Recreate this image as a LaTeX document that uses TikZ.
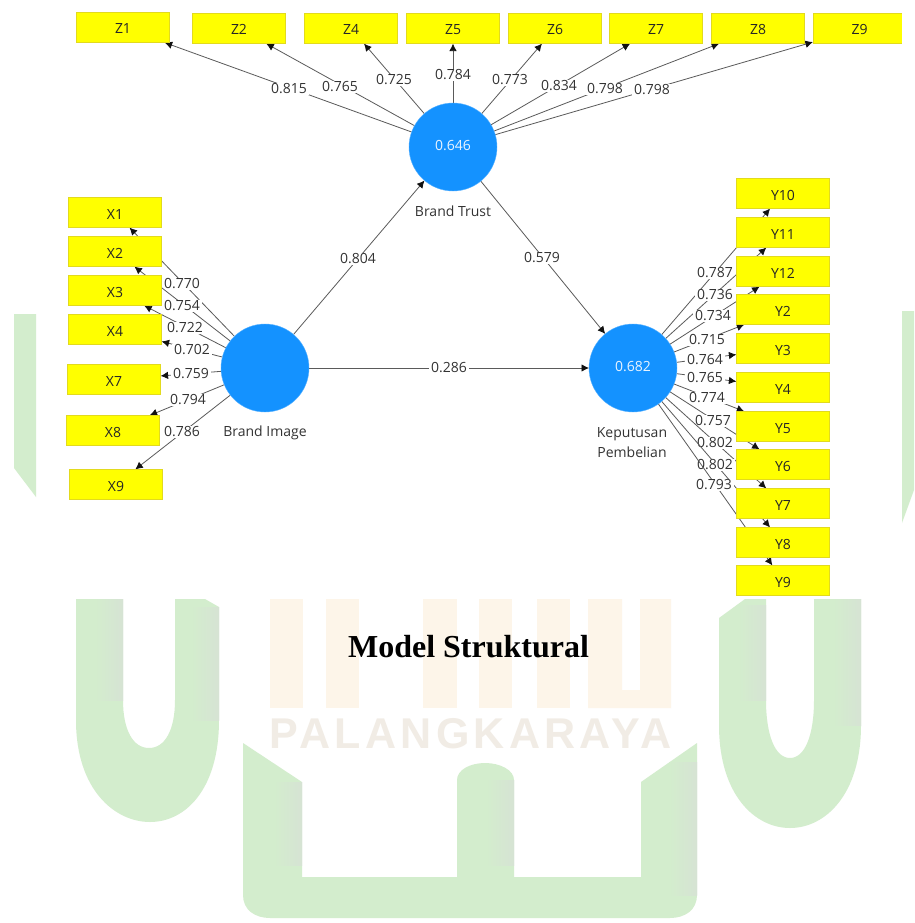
\documentclass[tikz,border=0pt]{standalone}
\usepackage{fontspec}
\setmainfont{Open Sans}
\newfontfamily\titlefont{Liberation Serif}
\newfontfamily\wmfont[LetterSpace=10]{Liberation Sans}
\usetikzlibrary{arrows.meta}
\pgfdeclarelayer{wm}
\pgfdeclarelayer{links}
\pgfsetlayers{wm,links,main}
\definecolor{wmgreen}{HTML}{D3EDCD}
\definecolor{wmgray}{HTML}{D6E3D4}
\definecolor{wmtan}{HTML}{FDF5E9}
\definecolor{wmtext}{HTML}{F1ECE5}
\definecolor{lvblue}{HTML}{1492FF}
\definecolor{boxfill}{HTML}{FFFF00}
\definecolor{boxedge}{HTML}{E2DA1E}
\definecolor{linkgray}{HTML}{5A5A5A}
\definecolor{tipblack}{HTML}{111111}
\definecolor{labelink}{HTML}{333333}
\tikzset{
  x=1pt,y=-1pt,
  every node/.style={font=\fontsize{14}{18}\selectfont,inner sep=0pt,outer sep=0pt},
  indicator/.style={rectangle,draw=boxedge,line width=0.8pt,fill=boxfill,minimum width=93.2pt,minimum height=30.2pt,text=black!85,text height=13pt,text depth=0pt},
  latent/.style={circle,fill=lvblue,draw=lvblue!70!white,line width=0.4pt,minimum size=88pt,text=white!90!lvblue},
  caption/.style={text=black!80,align=center},
  link/.style={draw=linkgray,line width=0.8pt,-{Latex[length=7.5pt,width=7.5pt,color=tipblack]}},
  weight/.style={fill=white,text=labelink,inner xsep=2.5pt,inner ysep=0.5pt},
}
\newcommand{\lnk}[6]{%
  \draw[link] (#1) -- (#2);
  \node[weight] (#3) at (#5,#6) {#4};}
\newcommand{\edgeshade}[4]{%
  \shade[left color=wmgreen,right color=wmgray] (#1,#3) rectangle (#2,#4);}
\begin{document}
\begin{tikzpicture}
\useasboundingbox (0,0) rectangle (914,923);
\begin{pgfonlayer}{wm}
  \fill[white] (0,0) rectangle (914,923);
  % side strips
  \fill[wmgreen] (14,314) -- (36,314) -- (36,497) -- (14,468) -- cycle;
  \fill[wmgreen] (902,311) -- (914,311) -- (914,490) -- (902,523) -- cycle;
  % left U
  \fill[wmgreen] (76,599) -- (76,720) .. controls (76,790) and (115,822) .. (150,822)
     .. controls (185,822) and (219,790) .. (219,720) -- (219,607) -- (205,599) -- (175,599)
     -- (175,700) .. controls (175,730) and (165,748) .. (149,748)
     .. controls (133,748) and (123,730) .. (123,700) -- (123,599) -- cycle;
  \edgeshade{95}{123}{599}{700}
  \edgeshade{191}{219}{607}{720}
  % right U
  \fill[wmgreen] (719,618) -- (745,599) -- (766,599) -- (766,700)
     .. controls (766,735) and (775,758) .. (790,758)
     .. controls (805,758) and (814,735) .. (814,700) -- (814,599) -- (861,599) -- (861,725)
     .. controls (861,795) and (825,828) .. (790,828)
     .. controls (755,828) and (719,795) .. (719,725) -- cycle;
  \edgeshade{738}{766}{605}{700}
  \edgeshade{833}{861}{599}{725}
  % bottom shape
  \fill[wmgreen] (243,743) -- (302,782) -- (302,877) -- (457,877) -- (457,780)
     .. controls (457,770) and (470,763) .. (485,763)
     .. controls (500,763) and (514,770) .. (514,780) -- (514,877) -- (641,877) -- (641,782)
     -- (697,743) -- (697,895) .. controls (697,910) and (685,918) .. (670,918) -- (270,918)
     .. controls (255,918) and (243,910) .. (243,895) -- cycle;
  \edgeshade{274}{302}{782}{865}
  \edgeshade{486}{514}{780}{865}
  \edgeshade{669}{697}{762}{895}
  % tan bars
  \fill[wmtan] (270,599) rectangle (303,708);
  \fill[wmtan] (326,599) rectangle (359,708);
  \fill[wmtan] (423,599) rectangle (457,708);
  \fill[wmtan] (479,599) rectangle (512,708);
  \fill[wmtan] (537,599) rectangle (570,708);
  \fill[wmtan] (588,599) -- (622,599) -- (622,690) -- (640,690) -- (640,599) -- (671,599) -- (671,708) -- (588,708) -- cycle;
  \node[text=wmtext,font=\wmfont\bfseries\fontsize{43}{46}\selectfont] (wmark) at (470.5,733.5) {PALANGKARAYA};
\end{pgfonlayer}

% latent variables
\node[latent] (BT) at (453,147) {\raisebox{4pt}{0.646}};
\node[latent] (BI) at (265,368) {};
\node[latent] (KP) at (633,368) {\raisebox{4pt}{0.682}};
\node[caption] (BTc) at (453,211) {Brand Trust};
\node[caption] (BIc) at (265,432.5) {Brand Image};
\node[caption,font=\fontsize{14}{20.5}\selectfont] (KPc) at (632,442.5) {Keputusan\\Pembelian};

% Z indicators
\node[indicator] (Z1) at (123,27.5) {Z1};
\node[indicator] (Z2) at (239,28.5) {Z2};
\node[indicator] (Z4) at (351,28.5) {Z4};
\node[indicator] (Z5) at (453,28.5) {Z5};
\node[indicator] (Z6) at (555,28.5) {Z6};
\node[indicator] (Z7) at (656,28.5) {Z7};
\node[indicator] (Z8) at (758,28.5) {Z8};
\node[indicator] (Z9) at (859.5,28.5) {Z9};
\fill[white] (902.2,10) rectangle (914,50);

% X indicators
\node[indicator] (X1) at (115,212.5) {X1};
\node[indicator] (X2) at (115,251.5) {X2};
\node[indicator] (X3) at (115,290.5) {X3};
\node[indicator] (X4) at (115,329.5) {X4};
\node[indicator] (X7) at (114,379.5) {X7};
\node[indicator] (X8) at (113,430.5) {X8};
\node[indicator] (X9) at (116,484.5) {X9};

% Y indicators
\node[indicator] (Y10) at (783,193.5) {Y10};
\node[indicator] (Y11) at (783,232.5) {Y11};
\node[indicator] (Y12) at (783,271.5) {Y12};
\node[indicator] (Y2) at (783,309.5) {Y2};
\node[indicator] (Y3) at (783,348.5) {Y3};
\node[indicator] (Y4) at (783,387.5) {Y4};
\node[indicator] (Y5) at (783,426.5) {Y5};
\node[indicator] (Y6) at (783,464.5) {Y6};
\node[indicator] (Y7) at (783,503.5) {Y7};
\node[indicator] (Y8) at (783,542.5) {Y8};
\node[indicator] (Y9) at (783,580.5) {Y9};

\node[font=\titlefont\bfseries\fontsize{32}{36}\selectfont,text=black] (title) at (468.5,647) {Model Struktural};

\begin{pgfonlayer}{links}
  \lnk{BI}{BT}{w1}{0.804}{358}{259}
  \lnk{BT}{KP}{w2}{0.579}{542}{258}
  \lnk{BI}{KP}{w3}{0.286}{449}{368}
  \lnk{BT}{Z1}{wz1}{0.815}{289}{89}
  \lnk{BT}{Z2}{wz2}{0.765}{340}{87}
  \lnk{BT}{Z4}{wz4}{0.725}{394}{80}
  \lnk{BT}{Z5}{wz5}{0.784}{453}{75}
  \lnk{BT}{Z6}{wz6}{0.773}{510}{80}
  \lnk{BT}{Z7}{wz7}{0.834}{559}{86}
  \lnk{BT}{Z8}{wz8}{0.798}{605}{89}
  \lnk{BT}{Z9}{wz9}{0.798}{652}{90}
  \lnk{BI}{X1}{wx1}{0.770}{182}{284}
  \lnk{BI}{X2}{wx2}{0.754}{182}{306}
  \lnk{BI}{X3}{wx3}{0.722}{185}{328}
  \lnk{BI}{X4}{wx4}{0.702}{192}{350}
  \lnk{BI}{X7}{wx7}{0.759}{191}{374}
  \lnk{BI}{X8}{wx8}{0.794}{188}{400}
  \lnk{BI}{X9}{wx9}{0.786}{182}{432}
  \lnk{KP}{Y10}{wy10}{0.787}{715}{273}
  \lnk{KP}{Y11}{wy11}{0.736}{715}{295}
  \lnk{KP}{Y12}{wy12}{0.734}{713}{316}
  \lnk{KP}{Y2}{wy2}{0.715}{707}{340}
  \lnk{KP}{Y3}{wy3}{0.764}{705}{360}
  \lnk{KP}{Y4}{wy4}{0.765}{705}{378}
  \lnk{KP}{Y5}{wy5}{0.774}{707}{398}
  \lnk{KP}{Y6}{wy6}{0.757}{713}{421}
  \lnk{KP}{Y7}{wy7}{0.802}{715}{443}
  \lnk{KP}{Y8}{wy8}{0.802}{715}{465}
  \lnk{KP}{Y9}{wy9}{0.793}{714}{485}
\end{pgfonlayer}
\end{tikzpicture}
\end{document}
